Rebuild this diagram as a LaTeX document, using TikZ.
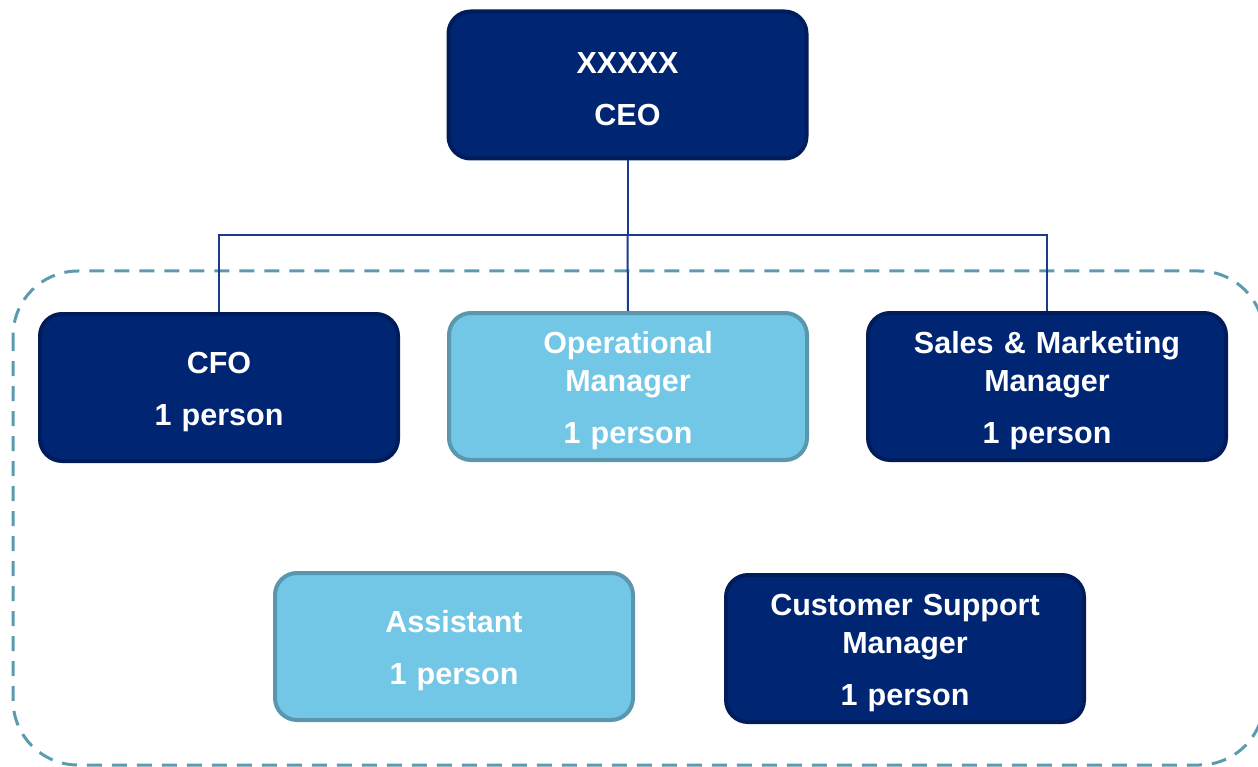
\documentclass[tikz,border=0pt]{standalone}
\usepackage{fontspec}
\setmainfont{Liberation Sans}
\definecolor{navy}{HTML}{002673}
\definecolor{navyedge}{HTML}{001C5A}
\definecolor{sky}{HTML}{72C6E6}
\definecolor{skyedge}{HTML}{5A97AE}
\definecolor{dashc}{HTML}{5B9BB0}
\definecolor{linec}{HTML}{1A3A8C}
\newcommand{\toppad}{\rule{0pt}{30pt}}
\tikzset{
  box/.style={rounded corners=22pt, line width=4pt, minimum width=358pt, minimum height=147pt,
    text width=350pt, align=center, inner sep=0pt, text=white,
    font=\bfseries\fontsize{30.5}{38}\selectfont},
  darkbox/.style={box, fill=navy, draw=navyedge},
  lightbox/.style={box, fill=sky, draw=skyedge},
  conn/.style={draw=linec, line width=2pt},
  group/.style={draw=dashc, line width=3pt, dash pattern=on 15pt off 10pt, rounded corners=65pt}
}
\begin{document}
\begin{tikzpicture}[x=1pt,y=-1pt]
\useasboundingbox (0,0) rectangle (1258,767);
\draw[group] (13,271) rectangle (1264,765);
\node[darkbox] (ceo) at (627.5,85) {\toppad XXXXX\\[14pt]CEO};
\node[darkbox] (cfo) at (219,387.5) {\toppad CFO\\[14pt]1 person};
\node[lightbox] (ops) at (628,386.5) {\toppad Operational\\Manager\\[14pt]1 person};
\node[darkbox] (sales) at (1047,386.5) {\toppad Sales \& Marketing\\Manager\\[14pt]1 person};
\node[lightbox] (asst) at (454,646.5) {\toppad Assistant\\[14pt]1 person};
\node[darkbox] (cs) at (905,648.5) {\toppad Customer Support\\Manager\\[14pt]1 person};
\coordinate (bus) at ([yshift=-75pt]ceo.south);
\draw[conn] (ceo.south) -- (bus);
\draw[conn] (bus) -| (cfo.north);
\draw[conn] (bus) -| (sales.north);
\draw[conn] (bus) -- (ops.north);
\end{tikzpicture}
\end{document}
